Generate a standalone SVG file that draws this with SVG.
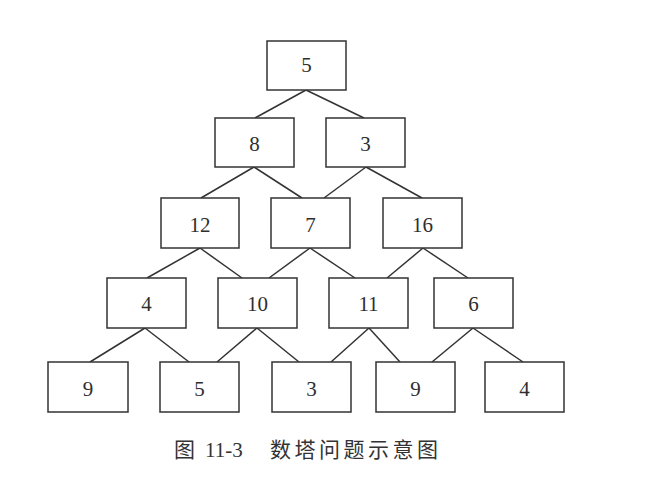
<svg xmlns="http://www.w3.org/2000/svg" width="666" height="489" viewBox="0 0 666 489">
<style>
.box{fill:#fff;stroke:#333;stroke-width:1.5}
.num{font-family:"Liberation Serif",serif;font-size:21px;fill:#2e2e2e;text-anchor:middle}
.edge{stroke:#333;stroke-width:1.5;fill:none}
.cap{font-family:"Liberation Serif","Noto Sans CJK SC",serif;font-size:21px;fill:#333}
.capc{font-family:"Noto Sans CJK SC",sans-serif;font-size:21px;fill:#333}
</style>
<rect width="666" height="489" fill="#fff"/>
<g id="connectors">
<line class="edge" x1="306" y1="90" x2="255" y2="118"/>
<line class="edge" x1="306" y1="90" x2="364" y2="118"/>
<line class="edge" x1="254" y1="167" x2="201" y2="198"/>
<line class="edge" x1="254" y1="167" x2="302" y2="198"/>
<line class="edge" x1="366" y1="167" x2="324" y2="198"/>
<line class="edge" x1="366" y1="167" x2="422" y2="198"/>
<line class="edge" x1="200" y1="248" x2="147" y2="278"/>
<line class="edge" x1="200" y1="248" x2="242" y2="278"/>
<line class="edge" x1="310" y1="248" x2="269" y2="278"/>
<line class="edge" x1="310" y1="248" x2="355" y2="278"/>
<line class="edge" x1="423" y1="248" x2="387" y2="278"/>
<line class="edge" x1="423" y1="248" x2="468" y2="278"/>
<line class="edge" x1="145" y1="328" x2="90" y2="362"/>
<line class="edge" x1="145" y1="328" x2="189" y2="362"/>
<line class="edge" x1="257" y1="328" x2="217" y2="362"/>
<line class="edge" x1="257" y1="328" x2="299" y2="362"/>
<line class="edge" x1="369" y1="328" x2="331" y2="362"/>
<line class="edge" x1="369" y1="328" x2="400" y2="362"/>
<line class="edge" x1="473" y1="328" x2="432" y2="362"/>
<line class="edge" x1="473" y1="328" x2="523" y2="362"/>
</g>
<g id="n1"><rect class="box" x="267" y="41" width="79" height="49"/><text class="num" x="306.5" y="72">5</text></g>
<g id="n2"><rect class="box" x="215" y="118" width="79" height="49"/><text class="num" x="254.5" y="151">8</text></g>
<g id="n3"><rect class="box" x="326" y="118" width="79" height="49"/><text class="num" x="365.5" y="151">3</text></g>
<g id="n4"><rect class="box" x="161" y="198" width="78" height="50"/><text class="num" x="200" y="232">12</text></g>
<g id="n5"><rect class="box" x="271" y="198" width="79" height="50"/><text class="num" x="310.5" y="232">7</text></g>
<g id="n6"><rect class="box" x="383" y="198" width="79" height="50"/><text class="num" x="422.5" y="232">16</text></g>
<g id="n7"><rect class="box" x="107" y="278" width="79" height="50"/><text class="num" x="146.5" y="311">4</text></g>
<g id="n8"><rect class="box" x="218" y="278" width="79" height="50"/><text class="num" x="257.5" y="311">10</text></g>
<g id="n9"><rect class="box" x="329" y="278" width="79" height="50"/><text class="num" x="368.5" y="311">11</text></g>
<g id="n10"><rect class="box" x="434" y="278" width="79" height="50"/><text class="num" x="473.5" y="311">6</text></g>
<g id="n11"><rect class="box" x="48" y="362" width="80" height="50"/><text class="num" x="88" y="396">9</text></g>
<g id="n12"><rect class="box" x="160" y="362" width="79" height="50"/><text class="num" x="199.5" y="396">5</text></g>
<g id="n13"><rect class="box" x="272" y="362" width="79" height="50"/><text class="num" x="311.5" y="396">3</text></g>
<g id="n14"><rect class="box" x="376" y="362" width="79" height="50"/><text class="num" x="415.5" y="396">9</text></g>
<g id="n15"><rect class="box" x="485" y="362" width="79" height="50"/><text class="num" x="524.5" y="396">4</text></g>
<g id="caption">
<text class="capc" x="174" y="457">图</text>
<text class="cap" x="205" y="457">11-3</text>
<text class="capc" x="270" y="457" letter-spacing="3.5">数塔问题示意图</text>
</g>
</svg>
